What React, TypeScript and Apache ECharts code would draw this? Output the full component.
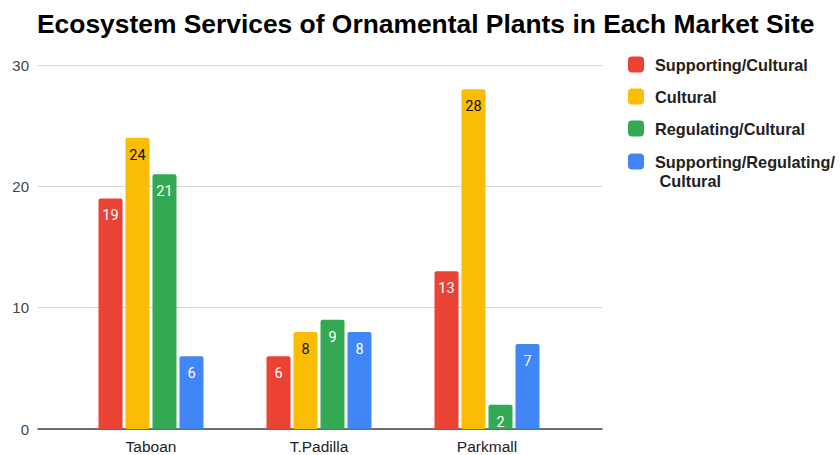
import React, { useEffect, useRef } from "react";
import * as echarts from "echarts";

const title = "Ecosystem Services of Ornamental Plants in Each Market Site";
const categories = ["Taboan", "T.Padilla", "Parkmall"];
const seriesNames = [
  "Supporting/Cultural",
  "Cultural",
  "Regulating/Cultural",
  "Supporting/Regulating/Cultural",
];
const supportingCultural = [19, 6, 13];
const cultural = [24, 8, 28];
const regulatingCultural = [21, 9, 2];
const supportingRegulatingCultural = [6, 8, 7];
const yTicks = { min: 0, max: 30, interval: 10 };

const colors = ["#EA4335", "#FBBC04", "#34A853", "#4285F4"];
const labelColors = ["#ffffff", "#111111", "#ffffff", "#ffffff"];
const FONT = "Liberation Sans, Arial, sans-serif";

export default function App() {
  const ref = useRef<HTMLDivElement>(null);
  useEffect(() => {
    if (!ref.current) return;
    const chart = echarts.init(ref.current, undefined, { renderer: "svg" });
    const values = [
      supportingCultural,
      cultural,
      regulatingCultural,
      supportingRegulatingCultural,
    ];
    const legendBase = {
      orient: "vertical",
      left: 623,
      itemWidth: 16,
      itemHeight: 16,
      itemGap: 13,
      icon: "roundRect",
      formatter: (name: string) =>
        name === "Supporting/Regulating/Cultural"
          ? "\nSupporting/Regulating/\n Cultural"
          : name,
      textStyle: {
        fontFamily: FONT,
        fontWeight: "bold",
        fontSize: 16.3,
        color: "#222",
        lineHeight: 19,
        padding: [0, 0, 0, 6],
      },
    };
    chart.setOption({
      animation: false,
      title: {
        text: title,
        left: 32,
        top: 6,
        textStyle: {
          fontFamily: FONT,
          fontWeight: "bold",
          fontSize: 26.4,
          color: "#000",
        },
      },
      legend: [
        { ...legendBase, top: 50, data: seriesNames.slice(0, 3) },
        { ...legendBase, top: 128, data: seriesNames.slice(3) },
      ],
      grid: [
        { left: 67, right: 269, top: 65, bottom: 26 },
        { left: 38, right: 238, top: 65, bottom: 26 },
      ],
      xAxis: [
        {
          type: "category",
          gridIndex: 0,
          data: categories,
          axisLine: { show: false },
          axisTick: { show: false },
          axisLabel: {
            fontFamily: FONT,
            fontSize: 15.5,
            color: "#222",
            margin: 9,
          },
        },
        {
          type: "value",
          gridIndex: 1,
          min: 0,
          max: 1,
          axisLine: { show: true, lineStyle: { color: "#444", width: 1.5 } },
          axisTick: { show: false },
          axisLabel: { show: false },
          splitLine: { show: false },
        },
      ],
      yAxis: [
        {
          type: "value",
          gridIndex: 0,
          ...yTicks,
          show: false,
          splitLine: { show: false },
        },
        {
          type: "value",
          gridIndex: 1,
          ...yTicks,
          axisLine: { show: false },
          axisTick: { show: false },
          axisLabel: {
            fontFamily: FONT,
            fontSize: 15,
            color: "#444",
            margin: 9,
          },
          splitLine: { lineStyle: { color: "#d6d6d6", width: 1 } },
        },
      ],
      series: seriesNames.map((name, i) => ({
        type: "bar",
        name,
        xAxisIndex: 0,
        yAxisIndex: 0,
        data: values[i],
        barWidth: 24,
        barGap: "12.5%",
        itemStyle: { color: colors[i], borderRadius: [2, 2, 0, 0] },
        label: {
          show: true,
          position: "insideTop",
          distance: 10,
          color: labelColors[i],
          fontFamily: "Roboto, Arial, sans-serif",
          fontSize: 14.5,
        },
      })),
    });
    return () => chart.dispose();
  }, []);
  return (
    <div
      ref={ref}
      style={{ position: "fixed", left: 0, top: 0, width: 840, height: 455, background: "#fff" }}
    />
  );
}
